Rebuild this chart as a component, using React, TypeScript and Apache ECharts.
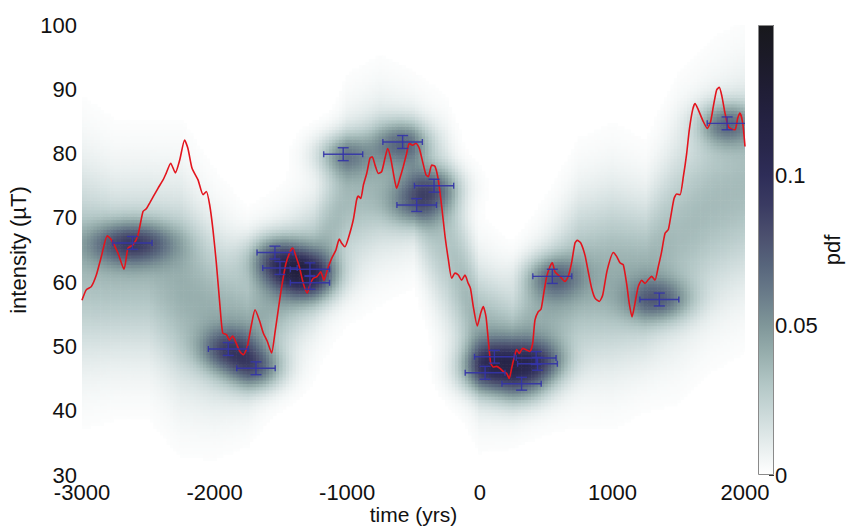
import React, { useEffect, useRef } from 'react';
import * as echarts from 'echarts';

// ---- red curve (time in yrs, intensity in µT) ----
const lineT = [
  -3000, -2995, -2968, -2930, -2892, -2854, -2809, -2779, -2728, -2683, -2653, -2615, -2578, -2540, -2515, -2490,
  -2427, -2389, -2364, -2331, -2296, -2263, -2226, -2201, -2170, -2125, -2087, -2062, -2037, -2012, -1987, -1959,
  -1939, -1909, -1889, -1864, -1839, -1809, -1783, -1753, -1720, -1695, -1663, -1633, -1603, -1570, -1545, -1520,
  -1494, -1462, -1431, -1411, -1386, -1361, -1331, -1301, -1281, -1256, -1226, -1200, -1175, -1150, -1117, -1085,
  -1060, -1040, -1017, -992, -954, -929, -916, -898, -878, -853, -828, -811, -790, -765, -740, -715, -695, -672,
  -647, -627, -602, -577, -552, -532, -507, -481, -456, -431, -406, -388, -363, -338, -313, -287, -262, -237, -212,
  -187, -162, -137, -112, -87, -70, -49, -19, 7, 26, 47, 64, 82, 102, 127, 152, 177, 203, 222, 240, 258, 278, 298,
  323, 348, 378, 399, 416, 441, 462, 484, 505, 529, 547, 567, 592, 617, 642, 667, 692, 718, 735, 761, 793, 818,
  844, 869, 901, 927, 960, 1007, 1032, 1057, 1082, 1107, 1127, 1148, 1170, 1195, 1221, 1246, 1271, 1296, 1321,
  1346, 1371, 1397, 1422, 1440, 1465, 1485, 1510, 1535, 1560, 1580, 1605, 1623, 1648, 1685, 1716, 1741, 1761,
  1786, 1806, 1826, 1849, 1874, 1900, 1925, 1945, 1962, 1983, 2000,
];
const lineI = [
  57.2, 57.5, 58.8, 59.3, 61.1, 64.0, 67.2, 66.6, 64.5, 62.0, 65.3, 65.8, 67.3, 71.0, 71.4, 72.3,
  74.6, 75.9, 77.0, 78.5, 77.0, 79.0, 82.1, 80.8, 77.7, 75.9, 73.6, 74.1, 72.0, 68.1, 63.0, 56.2,
  52.1, 51.8, 51.0, 51.6, 50.6, 49.2, 48.7, 50.0, 53.6, 55.7, 54.1, 52.1, 50.8, 49.0, 52.1, 55.7,
  59.3, 62.9, 64.7, 65.3, 64.0, 62.4, 59.8, 58.3, 59.6, 60.6, 60.9, 61.6, 60.3, 61.9, 63.7, 65.0,
  66.7, 66.0, 65.5, 66.8, 69.7, 72.8, 73.4, 73.0, 75.1, 76.9, 79.3, 79.5, 78.2, 76.9, 77.2, 79.3, 80.8, 79.3,
  76.4, 74.6, 76.2, 78.0, 80.0, 81.6, 81.3, 81.6, 80.8, 78.7, 76.7, 76.4, 78.2, 78.0, 75.9, 71.7, 67.1, 63.5, 60.6,
  61.4, 61.1, 60.3, 61.1, 59.8, 59.0, 56.2, 53.2, 55.2, 56.2, 54.6, 51.0, 47.4, 46.8, 46.9, 46.6, 46.1, 45.8, 45.0, 46.6, 48.2, 49.5, 48.9,
  49.7, 49.5, 49.2, 50.5, 54.1, 55.4, 55.8, 58.5, 60.9, 62.4, 63.0, 61.6, 61.1, 60.6, 60.1, 60.9, 63.0, 66.1, 66.5, 66.1, 64.2, 61.6,
  59.0, 57.5, 57.0, 58.0, 61.8, 64.6, 64.0, 63.0, 62.7, 59.8, 56.7, 54.6, 56.7, 59.3, 60.3, 59.8, 60.4, 60.9, 60.3,
  62.4, 64.7, 67.6, 68.2, 70.2, 73.0, 73.7, 73.6, 76.4, 80.0, 83.7, 86.8, 87.8, 86.8, 85.0, 83.9, 85.0, 87.3,
  89.9, 90.3, 88.9, 86.3, 84.2, 83.8, 83.7, 85.5, 86.3, 84.7, 81.1,
];

// ---- data points with error bars ----
const ptT = [-2620, -1897, -1688, -1545, -1507, -1281, -1281, -1030, -582, -476, -345, 40, 110, 315, 425, 435, 547, 1354, 1865];
const ptI = [66.1, 49.6, 46.6, 64.6, 62.2, 62.0, 59.9, 79.9, 81.8, 72.0, 75.0, 45.9, 48.4, 44.2, 48.2, 47.3, 60.9, 57.3, 84.7];
const ptTErr = [148, 150, 145, 135, 130, 148, 148, 147, 149, 149, 148, 150, 150, 148, 150, 150, 147, 147, 150];
const ptIErr = [1.0, 1.0, 1.0, 1.0, 1.0, 1.0, 1.0, 1.0, 1.0, 1.0, 1.0, 1.0, 1.0, 1.0, 1.0, 1.0, 1.1, 1.0, 1.0];
// strength / horizontal spread of the dark pdf core around each point
const ptCore = [0.06, 0.05, 0.05, 0.035, 0.035, 0.04, 0.035, 0.04, 0.045, 0.035, 0.04, 0.04, 0.04, 0.035, 0.03, 0.03, 0.04, 0.045, 0.05];
const ptCoreWidth = [220, 150, 150, 150, 150, 150, 150, 150, 150, 150, 150, 150, 150, 150, 150, 150, 150, 170, 150];

// ---- broad background band of the pdf, read every 250 yrs ----
const bandT = [-3000, -2750, -2500, -2250, -2000, -1750, -1500, -1250, -1000, -750, -500, -250, 0, 250, 500, 750, 1000, 1250, 1500, 1750, 2000];
const bandMean = [63, 62, 62, 59, 55, 53, 58, 63, 73, 76, 76, 66, 52, 50, 55, 60, 61, 61, 67, 72, 75];
const bandSd = [10, 9, 9, 10, 8.5, 7, 6.5, 6.5, 7.5, 7.5, 6.5, 9, 7, 6, 7, 8.5, 9, 8, 10, 10, 10];
const bandPeak = [0.035, 0.035, 0.035, 0.04, 0.04, 0.04, 0.04, 0.035, 0.035, 0.035, 0.035, 0.03, 0.04, 0.04, 0.04, 0.04, 0.04, 0.04, 0.035, 0.035, 0.035];

// ---- colour bar ----
const pdfMax = 0.15;
const pdfTicks = [0, 0.05, 0.1];
const cmap = [
  '#ffffff', '#e6eded', '#ccdada', '#b3c7c6', '#98afae', '#7f9699', '#6a7c8a', '#57657c',
  '#4b4f6e', '#3a3b62', '#2e2d58', '#28264a', '#232140', '#1f1d33', '#1b1a27', '#18181c',
];

const xTicks = [-3000, -2000, -1000, 0, 1000, 2000];

const CELL_T = 25;
const CELL_I = 0.5;
const CORE_SD_I = 2.3;

function interpAt(xs: number[], ys: number[], x: number) {
  if (x <= xs[0]) return ys[0];
  for (let i = 1; i < xs.length; i++) {
    if (x <= xs[i]) {
      const f = (x - xs[i - 1]) / (xs[i] - xs[i - 1]);
      return ys[i - 1] + f * (ys[i] - ys[i - 1]);
    }
  }
  return ys[ys.length - 1];
}

function buildPdfCells() {
  const cells: number[][] = [];
  for (let t = xTicks[0]; t <= xTicks[xTicks.length - 1]; t += CELL_T) {
    const m = interpAt(bandT, bandMean, t);
    const s = interpAt(bandT, bandSd, t);
    const a = interpAt(bandT, bandPeak, t);
    for (let I = 30; I <= 100; I += CELL_I) {
      let p = a * Math.exp(-0.5 * ((I - m) / s) ** 2);
      for (let k = 0; k < ptT.length; k++) {
        const dt = (t - ptT[k]) / ptCoreWidth[k];
        const di = (I - ptI[k]) / CORE_SD_I;
        p += ptCore[k] * Math.exp(-0.5 * (dt * dt + di * di));
      }
      if (p > 0.0012) cells.push([t, I, Math.min(p, pdfMax)]);
    }
  }
  return cells;
}

export default function App() {
  const ref = useRef<HTMLDivElement>(null);
  useEffect(() => {
    if (!ref.current) return;
    const chart = echarts.init(ref.current, null, { renderer: 'svg' });
    const font = 'Liberation Sans, Arial, Helvetica, sans-serif';
    const labelStyle = { color: '#111', fontSize: 22, fontFamily: font };
    const cells = buildPdfCells();
    const gradStops = cmap.map((c, i) => ({ offset: i / (cmap.length - 1), color: c }));

    const option: any = {
      animation: false,
      backgroundColor: '#fff',
      grid: [
        { left: 82, right: 104, top: 25, bottom: 53, outerBoundsMode: 'none', containLabel: false },
        { left: 758, width: 16, top: 25, bottom: 53, outerBoundsMode: 'none', containLabel: false },
      ],
      xAxis: [
        {
          type: 'value', gridIndex: 0, min: -3000, max: 2000, interval: 1000,
          axisLine: { show: false }, axisTick: { show: false }, splitLine: { show: false },
          axisLabel: { ...labelStyle, margin: 6, formatter: (v: number) => String(v) },
          name: 'time (yrs)', nameLocation: 'middle', nameGap: 28, nameMoveOverlap: false,
          nameTextStyle: { ...labelStyle, fontSize: 21, lineHeight: 22 },
        },
        { type: 'category', gridIndex: 1, data: [''], show: false },
      ],
      yAxis: [
        {
          type: 'value', gridIndex: 0, min: 30, max: 100, interval: 10,
          axisLine: { show: false }, axisTick: { show: false }, splitLine: { show: false },
          axisLabel: { ...labelStyle, margin: 5 },
          name: 'intensity (µT)', nameLocation: 'middle', nameGap: 45, nameRotate: 90,
          nameTextStyle: { ...labelStyle },
        },
        {
          type: 'value', gridIndex: 1, min: 0, max: pdfMax, interval: 0.05, position: 'right',
          axisLine: { show: false },
          axisTick: { show: true, inside: true, length: 5, lineStyle: { color: '#333', width: 1 } },
          splitLine: { show: false },
          axisLabel: {
            ...labelStyle, margin: 1,
            formatter: (v: number) => {
              const hit = pdfTicks.find((p) => Math.abs(p - v) < 1e-9);
              return hit === undefined ? '' : String(hit);
            },
          },
          name: 'pdf', nameLocation: 'middle', nameGap: 44, nameRotate: 90,
          nameTextStyle: { ...labelStyle },
        },
      ],
      visualMap: [
        {
          type: 'continuous', show: false, seriesIndex: 0, dimension: 2,
          min: 0, max: pdfMax, inRange: { color: cmap },
        },
      ],
      series: [
        {
          type: 'custom', xAxisIndex: 0, yAxisIndex: 0, data: cells, clip: true, silent: true, z: 1,
          progressive: 0, progressiveThreshold: 1000000,
          encode: { x: 0, y: 1 },
          renderItem: (params: any, api: any) => {
            const t = api.value(0);
            const I = api.value(1);
            const p0 = api.coord([t - CELL_T / 2, I + CELL_I / 2]);
            const p1 = api.coord([t + CELL_T / 2, I - CELL_I / 2]);
            return {
              type: 'rect',
              shape: { x: p0[0], y: p0[1], width: p1[0] - p0[0] + 0.6, height: p1[1] - p0[1] + 0.6 },
              style: { fill: api.visual('color') },
            };
          },
        },
        {
          type: 'line', xAxisIndex: 0, yAxisIndex: 0, z: 3, silent: true,
          data: lineT.map((t, i) => [t, lineI[i]]),
          showSymbol: false, smooth: 0.2,
          lineStyle: { color: '#e3141d', width: 1.6 },
        },
        {
          type: 'custom', xAxisIndex: 0, yAxisIndex: 0, z: 4, clip: true, silent: true,
          data: ptT.map((t, i) => [t, ptI[i], ptTErr[i], ptIErr[i]]),
          encode: { x: 0, y: 1 },
          renderItem: (params: any, api: any) => {
            const t = api.value(0);
            const I = api.value(1);
            const te = api.value(2);
            const ie = api.value(3);
            const l = api.coord([t - te, I]);
            const r = api.coord([t + te, I]);
            const b = api.coord([t, I - ie]);
            const u = api.coord([t, I + ie]);
            const st = { stroke: 'rgba(52,52,168,0.9)', lineWidth: 1.4 };
            const ln = (x1: number, y1: number, x2: number, y2: number) => ({
              type: 'line', shape: { x1, y1, x2, y2 }, style: st,
            });
            return {
              type: 'group',
              children: [
                ln(l[0], l[1], r[0], r[1]),
                ln(l[0], l[1] - 3, l[0], l[1] + 3),
                ln(r[0], r[1] - 3, r[0], r[1] + 3),
                ln(b[0], b[1], u[0], u[1]),
                ln(b[0] - 5.5, b[1], b[0] + 5.5, b[1]),
                ln(u[0] - 5.5, u[1], u[0] + 5.5, u[1]),
              ],
            };
          },
        },
        {
          type: 'bar', xAxisIndex: 1, yAxisIndex: 1, data: [pdfMax], barWidth: '100%', silent: true,
          itemStyle: {
            color: new echarts.graphic.LinearGradient(0, 1, 0, 0, gradStops),
            borderColor: '#8a8a8a', borderWidth: 1,
          },
        },
      ],
    };
    chart.setOption(option);
    return () => chart.dispose();
  }, []);
  return (
    <div
      ref={ref}
      style={{ position: 'fixed', left: 0, top: 0, width: 849, height: 528, background: '#fff' }}
    />
  );
}
